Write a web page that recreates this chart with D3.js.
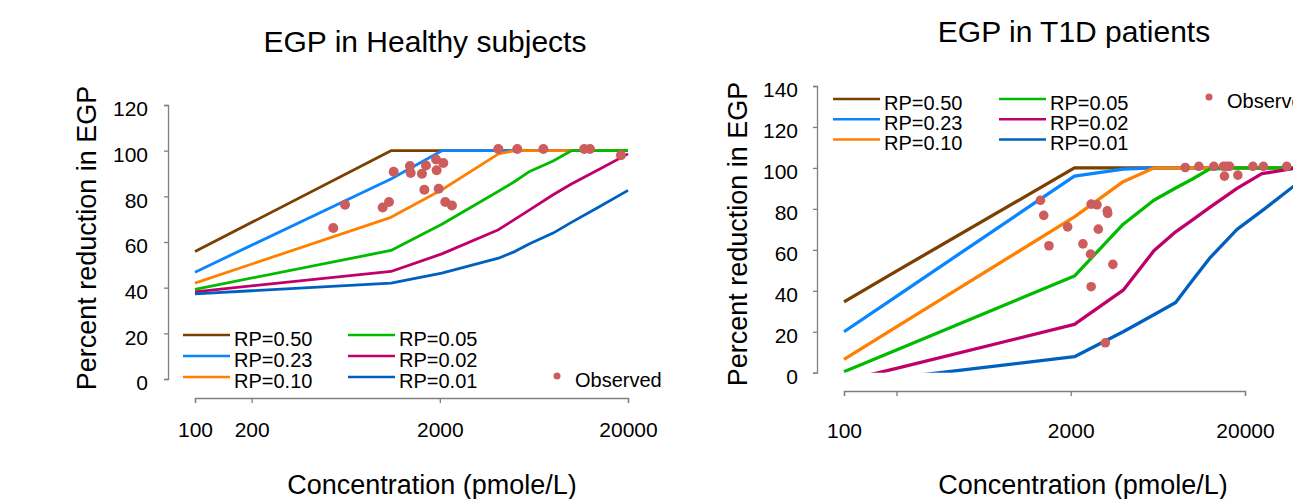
<!DOCTYPE html>
<html>
<head>
<meta charset="utf-8">
<script src="https://d3js.org/d3.v7.min.js"></script>
<style>
  body { margin: 0; background: #fff; }
  svg text { font-family: "Liberation Sans", Arial, sans-serif; fill: #000; }
  .axis path, .axis line { stroke: #7f7f7f; stroke-width: 1.3px; fill: none; }
</style>
</head>
<body>
<div id="chart"></div>
<script>
// series names and colours (same order in both panels)
var rpLabels = ['RP=0.50', 'RP=0.23', 'RP=0.10', 'RP=0.05', 'RP=0.02', 'RP=0.01'];
var rpColors = ['#7b3f00', '#0a85ff', '#ff8000', '#00bb00', '#c0006a', '#0060bf'];

// healthy subjects: concentration grid (pmole/L) and % reduction per RP
var healthyConc   = [100, 1100, 2050, 4100, 5000, 6000, 8000, 10000, 14000, 20000];
var healthyRP050  = [55.8, 100, 100, 100, 100, 100, 100, 100, 100, 100];
var healthyRP023  = [46.8, 87.6, 100, 100, 100, 100, 100, 100, 100, 100];
var healthyRP010  = [42.0, 70.8, 82.9, 98.6, 100, 100, 100, 100, 100, 100];
var healthyRP005  = [39.3, 56.3, 67.8, 82.2, 86.5, 90.9, 95.5, 100, 100, 100];
var healthyRP002  = [38.2, 47.1, 54.8, 65.4, 69.9, 74.1, 80.7, 85.4, 91.8, 98.6];
var healthyRP001  = [37.3, 42.0, 46.4, 52.9, 55.8, 59.2, 63.9, 68.6, 75.3, 82.6];
var healthyObsConc = [543, 627, 994, 1074, 1137, 1388, 1400, 1607, 1688, 1655, 1909,
                      2087, 1924, 1972, 2138, 2320, 4090, 5160, 7100, 11700, 12550, 18350];
var healthyObsPct  = [66.1, 76.3, 75.1, 77.5, 90.8, 93.3, 90.2, 89.9, 93.5, 82.9, 96.1,
                      94.6, 91.4, 83.3, 77.5, 76.0, 100.7, 100.7, 100.7, 100.7, 100.7, 98];

// T1D patients
var t1dConc  = [100, 200, 2100, 4000, 6000, 8000, 10000, 12500, 18000, 25000, 40000];
var t1dRP050 = [34.6, 49.6, 100, 100, 100, 100, 100, 100, 100, 100, 100];
var t1dRP023 = [20.0, 37.3, 96.0, 99.4, 100, 100, 100, 100, 100, 100, 100];
var t1dRP010 = [6.5, 22.4, 76.1, 93.3, 100, 100, 100, 100, 100, 100, 100];
var t1dRP005 = [0.5, 11.1, 47.2, 72.5, 84.2, 90.2, 94.6, 99.4, 100, 100, 100];
var t1dRP002 = [-4.0, 2.1, 23.6, 40.3, 59.5, 68.8, 74.6, 80.6, 90.0, 97.2, 100];
var t1dRP001 = [-5.5, -2.5, 7.8, 20.0, 28.3, 34.3, 45.2, 55.8, 70.0, 79.0, 92.5];
var t1dObsConc = [1340, 1400, 1500, 1920, 2350, 2600, 2620, 2830, 2880, 3240, 3260, 2620, 3490, 3160,
                  9080, 10870, 13250, 15050, 15730, 16300, 15250, 18200, 22200, 25500, 34700];
var t1dObsPct  = [84.2, 76.8, 62.0, 71.2, 62.9, 57.9, 82.3, 82.0, 70.1, 79.0, 77.8, 42.0, 52.9, 14.6,
                  100.2, 100.8, 100.8, 100.8, 100.8, 100.8, 96.0, 96.5, 100.8, 100.8, 100.8];

var xTickValues = [100, 200, 2000, 20000];

var svg = d3.select('#chart').append('svg')
    .attr('width', 1293)
    .attr('height', 499);

var drawPanel = function(p) {
  var x = d3.scaleLog().domain([100, 20000]).range(p.xRange);
  var y = d3.scaleLinear().domain([0, p.yMax]).range(p.yRange);
  var g = svg.append('g');

  // y axis
  var yAxis = g.append('g')
      .attr('class', 'axis')
      .attr('transform', 'translate(' + p.yAxisX + ',0)')
      .call(d3.axisLeft(y).tickValues(d3.range(0, p.yMax + 1, 20)).tickSize(4).tickSizeOuter(4).tickPadding(p.yPad));
  yAxis.selectAll('text').style('font-size', '21px').attr('dy', '0.52em');

  // x axis
  var xAxis = g.append('g')
      .attr('class', 'axis')
      .attr('transform', 'translate(0,' + p.xAxisY + ')')
      .call(d3.axisBottom(x).tickValues(xTickValues).tickSize(5).tickSizeOuter(5)
        .tickFormat(function(d) { return p.xLabels.indexOf(d) >= 0 ? d : ''; }));
  xAxis.selectAll('text').style('font-size', '21px').attr('y', p.xLabelOff).attr('dy', 0);

  // titles
  g.append('text')
    .attr('x', p.titleX).attr('y', p.titleY)
    .attr('text-anchor', 'middle').style('font-size', '30px')
    .text(p.title);
  g.append('text')
    .attr('transform', 'translate(' + p.yTitleX + ',' + p.yTitleY + ') rotate(-90)')
    .attr('text-anchor', 'middle').style('font-size', '27px')
    .text('Percent reduction in EGP');
  g.append('text')
    .attr('x', p.xTitleX).attr('y', 494)
    .attr('text-anchor', 'middle').style('font-size', '27px')
    .text('Concentration (pmole/L)');

  // model curves
  var plot = g.append('g');
  if (p.clip) {
    svg.append('clipPath').attr('id', p.clip)
      .append('rect')
      .attr('x', p.yAxisX).attr('y', 0)
      .attr('width', 1293 - p.yAxisX).attr('height', y(0));
    plot.attr('clip-path', 'url(#' + p.clip + ')');
  }
  var line = d3.line()
      .x(function(d) { return x(d[0]); })
      .y(function(d) { return y(d[1]); });
  p.curves.forEach(function(vals, i) {
    plot.append('path')
      .datum(p.conc.map(function(c, j) { return [c, vals[j]]; }))
      .attr('d', line)
      .attr('fill', 'none')
      .attr('stroke', rpColors[i])
      .attr('stroke-width', p.lineWidth)
      .attr('stroke-linejoin', 'round');
  });

  // observed
  g.selectAll(null)
    .data(p.obsConc.map(function(c, j) { return [c, p.obsPct[j]]; }))
    .enter()
    .append('circle')
    .attr('cx', function(d) { return x(d[0]); })
    .attr('cy', function(d) { return y(d[1]); })
    .attr('r', p.dotR)
    .attr('fill', '#cd5c5c');

  // legend
  var lg = g.append('g').attr('transform', 'translate(' + p.legendX + ',' + p.legendY + ')');
  rpLabels.forEach(function(lbl, i) {
    var col = Math.floor(i / 3), row = i % 3;
    var lx = col * p.legendColW, ly = row * p.legendRowH;
    lg.append('line')
      .attr('x1', lx).attr('x2', lx + 47)
      .attr('y1', ly).attr('y2', ly)
      .attr('stroke', rpColors[i]).attr('stroke-width', 2.5);
    lg.append('text')
      .attr('x', lx + 51).attr('y', ly + 11)
      .style('font-size', '20px')
      .text(lbl);
  });
  lg.append('circle')
    .attr('cx', p.obsLegX).attr('cy', p.obsLegY)
    .attr('r', 3.5).attr('fill', '#cd5c5c');
  lg.append('text')
    .attr('x', p.obsLegX + 18).attr('y', p.obsLegY + 11)
    .style('font-size', '20px')
    .text('Observed');
};

drawPanel({
  xRange: [195, 628], yRange: [379, 105], yMax: 120,
  yAxisX: 168, yPad: 16, xAxisY: 398, xLabelOff: 39,
  xLabels: [100, 200, 2000, 20000],
  title: 'EGP in Healthy subjects', titleX: 425, titleY: 52,
  yTitleX: 96, yTitleY: 238, xTitleX: 432,
  conc: healthyConc,
  curves: [healthyRP050, healthyRP023, healthyRP010, healthyRP005, healthyRP002, healthyRP001],
  obsConc: healthyObsConc, obsPct: healthyObsPct,
  lineWidth: 2.8, dotR: 5,
  legendX: 183, legendY: 335, legendColW: 165, legendRowH: 21,
  obsLegX: 374, obsLegY: 41
});

drawPanel({
  xRange: [844, 1245], yRange: [372.7, 86], yMax: 140,
  yAxisX: 817, yPad: 15, xAxisY: 391, xLabelOff: 47,
  xLabels: [100, 2000, 20000],
  title: 'EGP in T1D patients', titleX: 1074, titleY: 42,
  yTitleX: 747, yTitleY: 234, xTitleX: 1083,
  conc: t1dConc,
  curves: [t1dRP050, t1dRP023, t1dRP010, t1dRP005, t1dRP002, t1dRP001],
  obsConc: t1dObsConc, obsPct: t1dObsPct,
  lineWidth: 3.3, dotR: 4.8,
  legendX: 833, legendY: 99, legendColW: 166, legendRowH: 20.2,
  obsLegX: 376, obsLegY: -2,
  clip: 'clipT1D'
});
</script>
</body>
</html>
